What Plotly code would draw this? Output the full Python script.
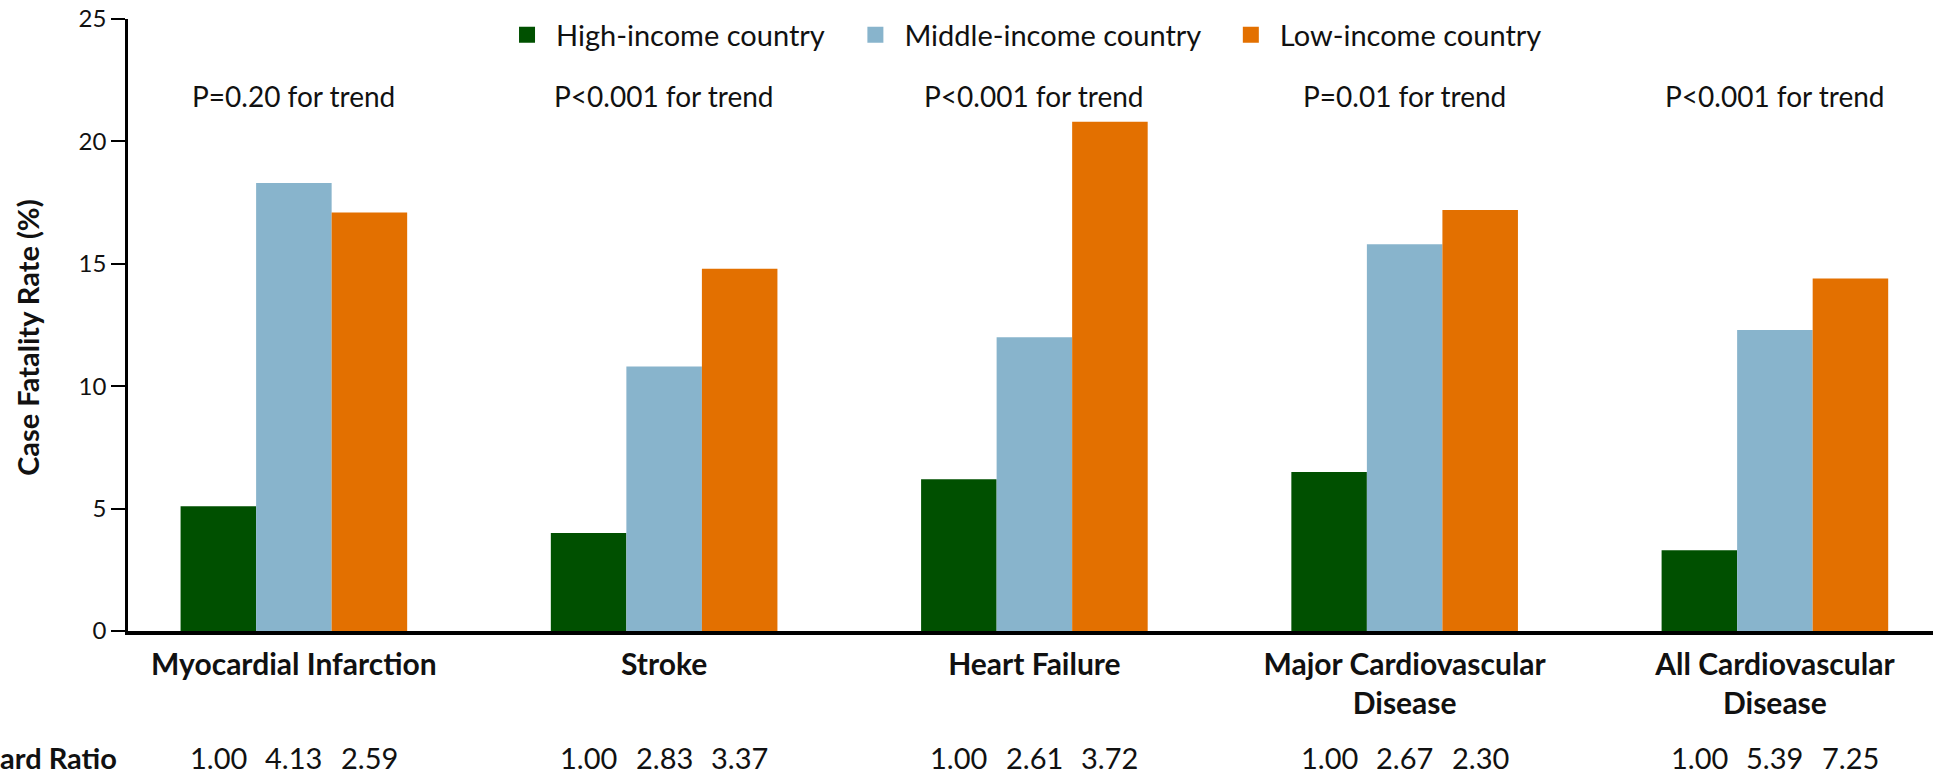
import plotly.graph_objects as go

# Outcome categories and case-fatality rates (%) by country income level
categories = ["Myocardial Infarction", "Stroke", "Heart Failure",
              "Major Cardiovascular<br>Disease", "All Cardiovascular<br>Disease"]
high_income = [5.1, 4.0, 6.2, 6.5, 3.3]
middle_income = [18.3, 10.8, 12.0, 15.8, 12.3]
low_income = [17.1, 14.8, 20.8, 17.2, 14.4]

series_names = ["High-income country", "Middle-income country", "Low-income country"]
series_colors = ["#005000", "#88b4cc", "#e37000"]

# P values for trend, one per category
p_trend = ["P=0.20 for trend", "P<0.001 for trend", "P<0.001 for trend",
           "P=0.01 for trend", "P<0.001 for trend"]

# Hazard ratios (high, middle, low) per category
hazard_high = ["1.00", "1.00", "1.00", "1.00", "1.00"]
hazard_middle = ["4.13", "2.83", "2.61", "2.67", "5.39"]
hazard_low = ["2.59", "3.37", "3.72", "2.30", "7.25"]

y_ticks = [0, 5, 10, 15, 20, 25]

FONT = "Lato, 'Open Sans', sans-serif"
BAR_GAP = 0.388
n_series = 3
bar_w = (1 - BAR_GAP) / n_series

x_idx = list(range(len(categories)))

# one legend per series so each entry sits at its own horizontal position
legend_ids = ["legend", "legend2", "legend3"]
legend_x = [0.205, 0.398, 0.606]

fig = go.Figure()
for name, vals, col, lid in zip(series_names, [high_income, middle_income, low_income],
                                series_colors, legend_ids):
    fig.add_trace(go.Bar(
        x=x_idx, y=vals, name=name, marker=dict(color=col, line=dict(width=0)),
        showlegend=False, hoverinfo="x+y",
    ))
    # legend entry with a larger square swatch
    fig.add_trace(go.Scatter(
        x=[None], y=[None], mode="markers", name=name, legend=lid,
        marker=dict(symbol="square", size=16, color=col),
    ))

annotations = []
for i, txt in enumerate(p_trend):
    annotations.append(dict(
        x=i, y=0.874, xref="x", yref="paper", text=txt, showarrow=False,
        font=dict(family=FONT, size=28, color="#111"), xanchor="center", yanchor="middle",
    ))

for i in x_idx:
    for j, vals in enumerate([hazard_high, hazard_middle, hazard_low]):
        annotations.append(dict(
            x=i + (j - 1) * bar_w, y=-0.206, xref="x", yref="paper", text=vals[i],
            showarrow=False, font=dict(family=FONT, size=29, color="#111"),
            xanchor="center", yanchor="middle",
        ))

annotations.append(dict(
    x=-0.005, y=-0.206, xref="paper", yref="paper", text="Hazard Ratio",
    showarrow=False, font=dict(family=FONT, size=29, color="#111", weight="bold"),
    xanchor="right", yanchor="middle",
))

annotations.append(dict(
    x=-0.0554, y=0.479, xref="paper", yref="paper", text="Case Fatality Rate (%)",
    showarrow=False, textangle=-90, font=dict(family=FONT, size=29, color="#111", weight="bold"),
    xanchor="center", yanchor="middle",
))

legend_style = dict(
    orientation="h", y=1 - 35 / 774, xref="paper", yref="container",
    xanchor="left", yanchor="middle", itemwidth=48,
    font=dict(family=FONT, size=29, color="#111"), bgcolor="rgba(0,0,0,0)",
    itemclick=False, itemdoubleclick=False,
)

fig.update_layout(
    width=1949, height=774,
    margin=dict(l=128, r=16, t=19, b=143, autoexpand=False),
    paper_bgcolor="white", plot_bgcolor="white",
    barmode="group", bargap=BAR_GAP, bargroupgap=0,
    font=dict(family=FONT, color="#111"),
    legend=dict(x=legend_x[0], **legend_style),
    legend2=dict(x=legend_x[1], **legend_style),
    legend3=dict(x=legend_x[2], **legend_style),
    annotations=annotations,
    xaxis=dict(
        tickmode="array", tickvals=x_idx, ticktext=categories,
        range=[-0.448, 4.427], showgrid=False, zeroline=False,
        showline=True, linecolor="black", linewidth=3.5,
        ticks="", tickfont=dict(family=FONT, size=30, color="#111", weight="bold"),
        ticklabelstandoff=4, fixedrange=True,
    ),
    yaxis=dict(
        range=[0, 25], tickvals=y_ticks, showgrid=False, zeroline=False,
        showline=True, linecolor="black", linewidth=2.5,
        ticks="outside", ticklen=14, tickwidth=2, tickcolor="black",
        tickfont=dict(family=FONT, size=24, color="#111"), fixedrange=True,
    ),
)

fig.write_html("out.html")
